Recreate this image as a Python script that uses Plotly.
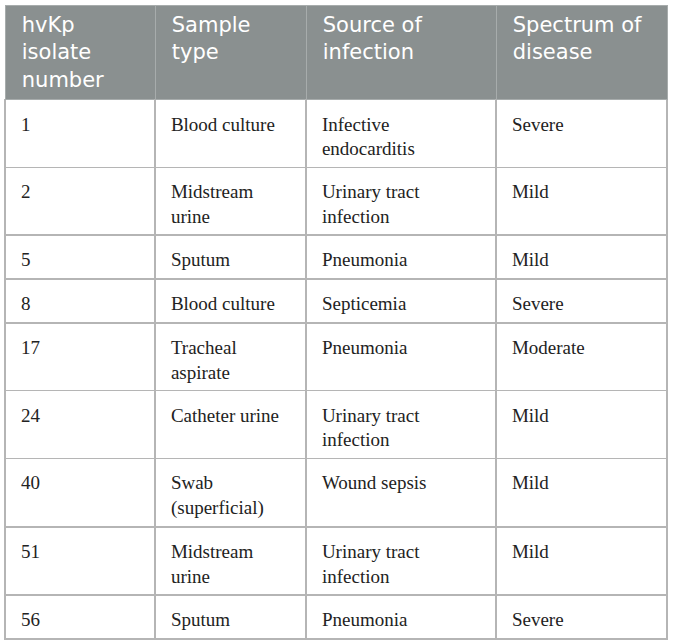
import plotly.graph_objects as go

# table contents
headers = ["hvKp<br>isolate<br>number", "Sample<br>type", "Source of<br>infection", "Spectrum of<br>disease"]
isolate_no = ["1", "2", "5", "8", "17", "24", "40", "51", "56"]
sample_type = ["Blood culture", "Midstream<br>urine", "Sputum", "Blood culture", "Tracheal<br>aspirate",
               "Catheter urine", "Swab<br>(superficial)", "Midstream<br>urine", "Sputum"]
source = ["Infective<br>endocarditis", "Urinary tract<br>infection", "Pneumonia", "Septicemia", "Pneumonia",
          "Urinary tract<br>infection", "Wound sepsis", "Urinary tract<br>infection", "Pneumonia"]
spectrum = ["Severe", "Mild", "Mild", "Severe", "Moderate", "Mild", "Mild", "Mild", "Severe"]

# leading nbsp in a bigger font: left padding + strut giving the rows more top room
FIRST_PAD = '<span style="font-size:25.25px">\u00a0</span>\u200a'
LINE_PAD = "\u00a0\u200a\u200a"
HEAD_PAD = "\u00a0\u200a"


def body_cell(txt):
    lines = txt.split("<br>")
    out = FIRST_PAD + ("<br>" + LINE_PAD).join(lines)
    if len(lines) == 1:
        # a trailing <br> keeps plotly from re-wrapping the text word by word
        out += "<br>"
    return out


def head_cell(txt):
    return HEAD_PAD + txt.replace("<br>", "<br>" + HEAD_PAD)


cols = [isolate_no, sample_type, source, spectrum]

fig = go.Figure()
fig.add_trace(go.Table(
    domain=dict(x=[5 / 673, 667 / 673], y=[0, 1 - 5 / 640]),
    columnwidth=[150, 151, 190, 171],
    header=dict(
        values=[head_cell(h) for h in headers],
        fill_color="#8a9090",
        line=dict(color="#a7acac", width=1),
        align="left",
        height=94,
        font=dict(family="DejaVu Sans", size=21, color="white"),
    ),
    cells=dict(
        values=[[body_cell(v) for v in c] for c in cols],
        fill_color="white",
        line=dict(color="#b5b5b5", width=1.5),
        align="left",
        height=44,
        font=dict(family="Liberation Serif", size=19, color="#222222"),
    ),
))

fig.update_layout(
    width=673,
    height=640,
    margin=dict(l=0, r=0, t=0, b=0),
    paper_bgcolor="white",
)

fig.write_html("out.html", config={"displayModeBar": False},
               post_script="document.body.style.margin='0px';")
